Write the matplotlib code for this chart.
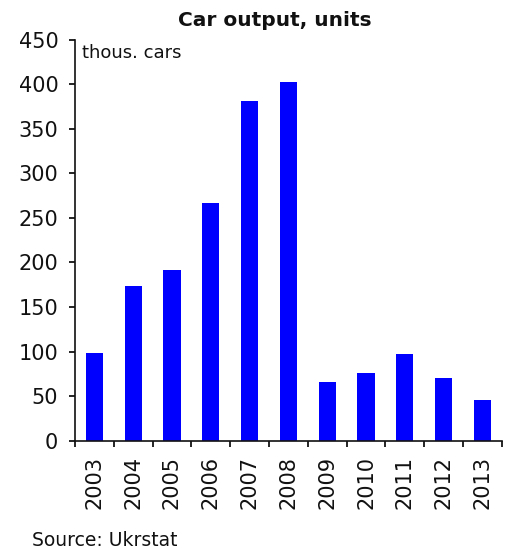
import matplotlib
matplotlib.use("Agg")
import matplotlib.pyplot as plt
import numpy as np

years = ["2003", "2004", "2005", "2006", "2007", "2008",
         "2009", "2010", "2011", "2012", "2013"]
output_thous = [99, 174, 192, 267, 381, 402, 66, 76, 97, 70, 45.5]
y_ticks = [0, 50, 100, 150, 200, 250, 300, 350, 400, 450]

plt.rcParams["font.family"] = ["DejaVu Sans"]

fig = plt.figure(figsize=(5.10, 5.49), dpi=100)
ax = fig.add_axes([0.147, 0.197, 0.837, 0.731])

x = np.arange(len(years))
ax.bar(x, output_thous, width=0.44, color="#0000FF", zorder=2)

ax.set_xlim(-0.5, len(years) - 0.5)
ax.set_ylim(0, 450)
ax.set_yticks(y_ticks)
ax.set_yticklabels([str(v) for v in y_ticks], fontsize=15, color="#111111")

# category ticks sit on the boundaries between bars
ax.set_xticks(np.arange(len(years) + 1) - 0.5)
ax.set_xticklabels([])
ax.set_xticks(x, minor=True)
ax.set_xticklabels(years, minor=True, rotation=90, fontsize=15,
                   color="#111111", va="top")
ax.tick_params(axis="x", which="minor", length=0, pad=11)
ax.tick_params(axis="x", which="major", direction="out", length=4.5, width=1.2)
ax.tick_params(axis="y", direction="out", length=4.5, width=1.2, pad=7.5)

for side in ("top", "right"):
    ax.spines[side].set_visible(False)
for side in ("left", "bottom"):
    ax.spines[side].set_linewidth(1.2)
    ax.spines[side].set_color("#111111")

ax.text(0.016, 0.988, "thous. cars", transform=ax.transAxes,
        fontsize=13, va="top", ha="left", color="#111111")

fig.text(0.538, 0.963, "Car output, units", fontsize=14.5, fontweight="bold",
         ha="center", va="center", color="#111111")
fig.text(0.063, 0.005, "Source: Ukrstat", fontsize=13.5, ha="left",
         va="baseline", color="#111111")

fig.savefig("out.png", dpi=100)
